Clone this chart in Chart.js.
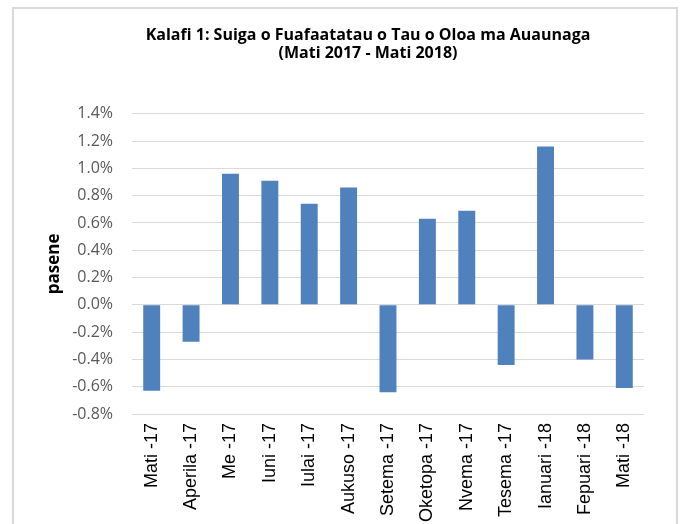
<!DOCTYPE html>
<html>
<head>
<meta charset="utf-8">
<script src="https://cdn.jsdelivr.net/npm/chart.js@4"></script>
<style>
body{margin:0;background:#fff;}
#wrap{position:relative;width:681px;height:524px;overflow:hidden;}
#frame{position:absolute;left:12px;top:7px;width:662px;height:540px;border:2px solid #d9d9d9;}
canvas{position:absolute;left:0;top:0;}
</style>
</head>
<body>
<div id="wrap">
<div id="frame"></div>
<canvas id="chart" width="681" height="524"></canvas>
</div>
<script>

// months (Samoan labels)
const months = ["Mati -17","Aperila -17","Me -17","Iuni -17","Iulai -17","Aukuso -17","Setema -17","Oketopa -17","Nvema -17","Tesema -17","Ianuari -18","Fepuari -18","Mati -18"];

// percent change
const changes = [-0.63,-0.27,0.96,0.91,0.74,0.86,-0.64,0.63,0.69,-0.44,1.16,-0.40,-0.61];

const titleLines = ["Kalafi 1: Suiga o Fuafaatatau o Tau o Oloa ma Auaunaga","(Mati 2017 - Mati 2018)"];
const yTitle = "pasene";
const yMin = -0.8;
const yMax = 1.4;
const yStep = 0.2;

const fontFam = "'Open Sans', sans-serif";
const labelFam = "'Liberation Sans', Arial, sans-serif";

new Chart(document.getElementById("chart"),{
type:"bar",
data:{
labels:months,
datasets:[{
data:changes,
backgroundColor:"#4f81bd",
borderWidth:0,
barPercentage:0.43,
categoryPercentage:1
}]
},
options:{
responsive:false,
animation:false,
layout:{padding:{left:55,right:0,top:0,bottom:0}},
plugins:{
legend:{display:false},
tooltip:{enabled:false},
title:{
display:true,
text:titleLines,
color:"#000",
font:{family:fontFam,size:16,weight:"bold",lineHeight:1.15},
padding:{top:26,bottom:51}
}
},
scales:{
x:{
grid:{display:false,drawTicks:false},
border:{display:false},
ticks:{
color:"#000",
font:{family:labelFam,size:18},
minRotation:90,
maxRotation:90,
padding:9,
autoSkip:false
},
afterFit:function(s){ s.height = 110; }
},
y:{
min:yMin,
max:yMax,
grid:{color:"#d9d9d9",lineWidth:1,drawTicks:false},
border:{display:false},
ticks:{
stepSize:yStep,
color:"#595959",
font:{family:fontFam,size:16},
padding:19,
callback:function(v){ return v.toFixed(1) + "%"; }
},
title:{
display:true,
text:yTitle,
color:"#000",
font:{family:fontFam,size:17,weight:"bold"},
padding:{top:-11,bottom:0}
},
afterFit:function(s){ s.width = 77; }
},
yRight:{
position:"right",
display:true,
grid:{display:false,drawTicks:false},
border:{display:false},
ticks:{display:false},
afterFit:function(s){ s.width = 37; }
}
}
}
});
</script>
</body>
</html>
